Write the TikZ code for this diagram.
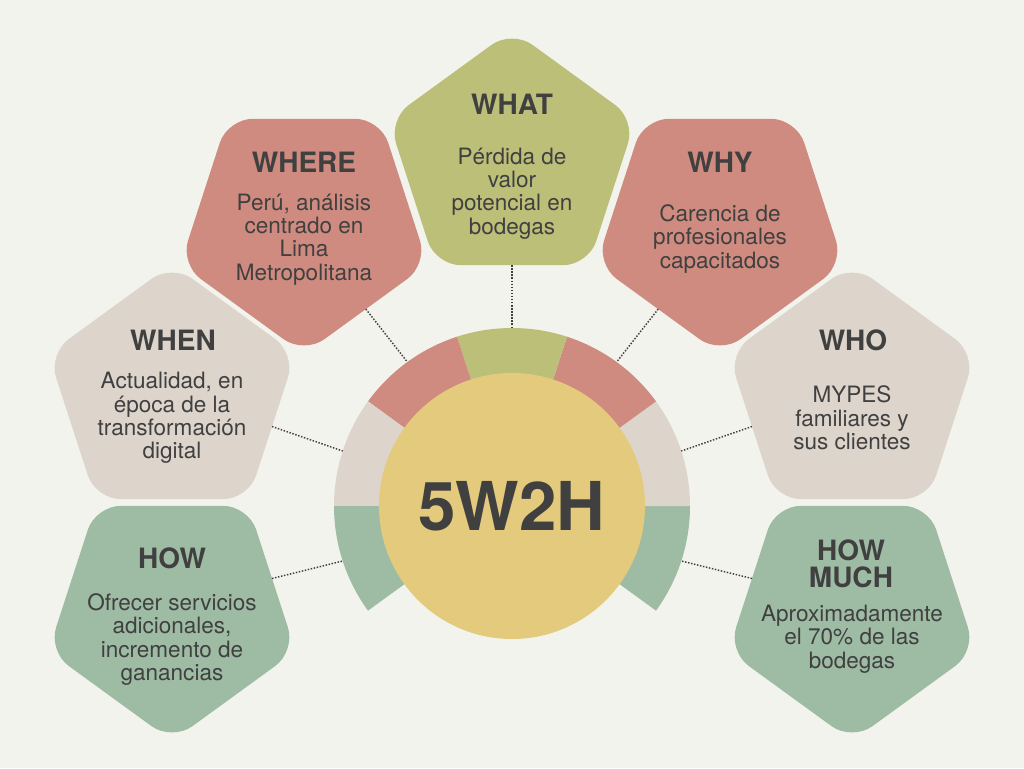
\documentclass[tikz,border=0pt]{standalone}
\usepackage{fontspec}
\setmainfont{TeX Gyre Heros}
\usetikzlibrary{shapes.geometric}

\definecolor{bg}{HTML}{F2F3EC}
\definecolor{olive}{HTML}{BCBF78}
\definecolor{rose}{HTML}{CF8B7F}
\definecolor{sand}{HTML}{DDD5CC}
\definecolor{sage}{HTML}{9EBBA4}
\definecolor{gold}{HTML}{E3CA7C}
\definecolor{ink}{HTML}{404040}

\tikzset{
  pent/.style={regular polygon, regular polygon sides=5, minimum size=195pt,
    inner sep=0pt, outer sep=0pt, rounded corners=18.75pt},
  pentdown/.style={pent, shape border rotate=180},
  ttl/.style={text=ink, inner sep=0pt, align=center,
    font=\bfseries\fontsize{21}{20}\selectfont},
  body/.style={text=ink, inner sep=0pt, align=center,
    font=\fontsize{16.9}{17.5}\selectfont},
  link/.style={draw=ink, line width=1.1pt, dash pattern=on 1.1pt off 1.2pt}
}

\begin{document}
\begin{tikzpicture}[x=0.75pt, y=-0.75pt]
  % canvas
  \fill[bg] (0,0) rectangle (1024,768);
  \useasboundingbox (0,0) rectangle (1024,768);

  % the seven pentagons
  \node[pent, fill=olive]     (what)    at (512,160) {};
  \node[pentdown, fill=rose]  (where)   at (304,224) {};
  \node[pentdown, fill=rose]  (why)     at (720,224) {};
  \node[pent, fill=sand]      (when)    at (172,394) {};
  \node[pent, fill=sand]      (who)     at (852,394) {};
  \node[pentdown, fill=sage]  (how)     at (172,611) {};
  \node[pentdown, fill=sage]  (howmuch) at (852,611) {};

  % segmented ring around the hub
  \node[circle, minimum size=267pt, inner sep=0pt, outer sep=0pt] (ring) at (512,506) {};
  \fill[sage]  (ring.center) -- (ring.-36) arc[start angle=-36, end angle=0,   radius=133.5pt] -- cycle;
  \fill[sand]  (ring.center) -- (ring.0)   arc[start angle=0,   end angle=36,  radius=133.5pt] -- cycle;
  \fill[rose]  (ring.center) -- (ring.36)  arc[start angle=36,  end angle=72,  radius=133.5pt] -- cycle;
  \fill[olive] (ring.center) -- (ring.72)  arc[start angle=72,  end angle=108, radius=133.5pt] -- cycle;
  \fill[rose]  (ring.center) -- (ring.108) arc[start angle=108, end angle=144, radius=133.5pt] -- cycle;
  \fill[sand]  (ring.center) -- (ring.144) arc[start angle=144, end angle=180, radius=133.5pt] -- cycle;
  \fill[sage]  (ring.center) -- (ring.180) arc[start angle=180, end angle=216, radius=133.5pt] -- cycle;

  % hub
  \node[circle, fill=gold, minimum size=199.5pt, inner sep=0pt, text=ink,
        font=\bfseries\fontsize{50.5}{50}\selectfont] (core) at (512,506) {5W2H};

  % dotted links from each pentagon to its ring segment
  \draw[link] (what.270)    -- (ring.90);
  \draw[link] (where.-54)   -- (ring.126);
  \draw[link] (why.234)     -- (ring.54);
  \draw[link] (when.-18)    -- (ring.162);
  \draw[link] (who.198)     -- (ring.18);
  \draw[link] (how.18)      -- (ring.198);
  \draw[link] (howmuch.162) -- (ring.-18);

  % titles
  \node[ttl] (whatT)    at (512,104)   {WHAT};
  \node[ttl] (whereT)   at (304,162)   {WHERE};
  \node[ttl] (whyT)     at (720,162)   {WHY};
  \node[ttl] (whenT)    at (173,340)   {WHEN};
  \node[ttl] (whoT)     at (853,340)   {WHO};
  \node[ttl] (howT)     at (172,558)   {HOW};
  \node[ttl] (howmuchT) at (851,563.5) {HOW\\MUCH};

  % descriptions
  \node[body] (whatB)    at (512,193.5) {Pérdida de\\valor\\potencial en\\bodegas};
  \node[body] (whereB)   at (304,239.5) {Perú, análisis\\centrado en\\Lima\\Metropolitana};
  \node[body] (whyB)     at (720,239)   {Carencia de\\profesionales\\capacitados};
  \node[body] (whenB)    at (172,418)   {Actualidad, en\\época de la\\transformación\\digital};
  \node[body] (whoB)     at (852,418)   {MYPES\\familiares y\\sus clientes};
  \node[body] (howB)     at (172,639.5) {Ofrecer servicios\\adicionales,\\incremento de\\ganancias};
  \node[body] (howmuchB) at (852,639)   {Aproximadamente\\el 70\% de las\\bodegas};
\end{tikzpicture}
\end{document}
